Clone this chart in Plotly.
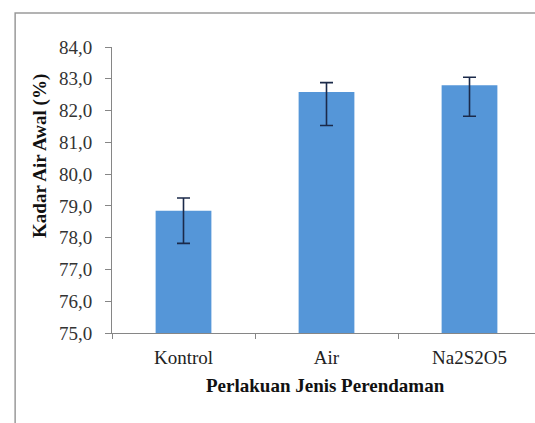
import plotly.graph_objects as go

# Data
perlakuan = ["Kontrol", "Air", "Na2S2O5"]
kadar_air = [78.85, 82.58, 82.80]
err_atas = [0.40, 0.30, 0.25]
err_bawah = [1.03, 1.05, 0.98]

SERIF = "Liberation Serif, Times New Roman, serif"
AXIS = "#868686"

fig = go.Figure(go.Bar(
    x=perlakuan, y=kadar_air, width=0.39,
    marker=dict(color="#5596D8", line=dict(width=0)),
    error_y=dict(type="data", symmetric=False, array=err_atas,
                 arrayminus=err_bawah, color="#1B2A4A",
                 thickness=1.6, width=6.5),
))

fig.update_layout(
    width=535, height=423,
    margin=dict(l=112, r=0, t=47, b=90),
    paper_bgcolor="white", plot_bgcolor="white",
    separators=",.",
    showlegend=False,
    font=dict(family=SERIF, color="#222222", size=19),
)
fig.update_yaxes(
    range=[75, 84], dtick=1, tickformat=".1f",
    showgrid=False, zeroline=False,
    showline=True, linecolor=AXIS, linewidth=1,
    ticks="outside", ticklen=6, tickcolor=AXIS,
    ticklabelstandoff=9,
    tickfont=dict(size=19, color="#333333"),
)
fig.update_xaxes(
    range=[-0.5, 2.458],
    showgrid=False, showline=True, linecolor=AXIS, linewidth=1,
    ticks="outside", ticklen=5, tickcolor=AXIS, tickson="boundaries",
    ticklabelstandoff=7,
    tickfont=dict(size=19, color="#222222"),
)

# axis titles
fig.add_annotation(text="<b>Perlakuan Jenis Perendaman</b>",
                   xref="paper", yref="paper", x=0.505, y=-0.185,
                   xanchor="center", yanchor="middle",
                   showarrow=False, font=dict(size=19, color="#111111"))
fig.add_annotation(text="<b>Kadar Air Awal (%)</b>", textangle=-90,
                   xref="paper", yref="paper", x=-0.172, y=0.62,
                   xanchor="center", yanchor="middle",
                   showarrow=False, font=dict(size=19, color="#111111"))

# chart frame
fig.add_shape(type="rect", xref="paper", yref="paper",
              x0=-0.229, x1=1.2, y0=-0.6, y1=1.119,
              line=dict(color="#9A9A9A", width=1.5), layer="below")

fig.write_html("out.html", config={"displayModeBar": False},
               post_script="document.body.style.margin='0';")
